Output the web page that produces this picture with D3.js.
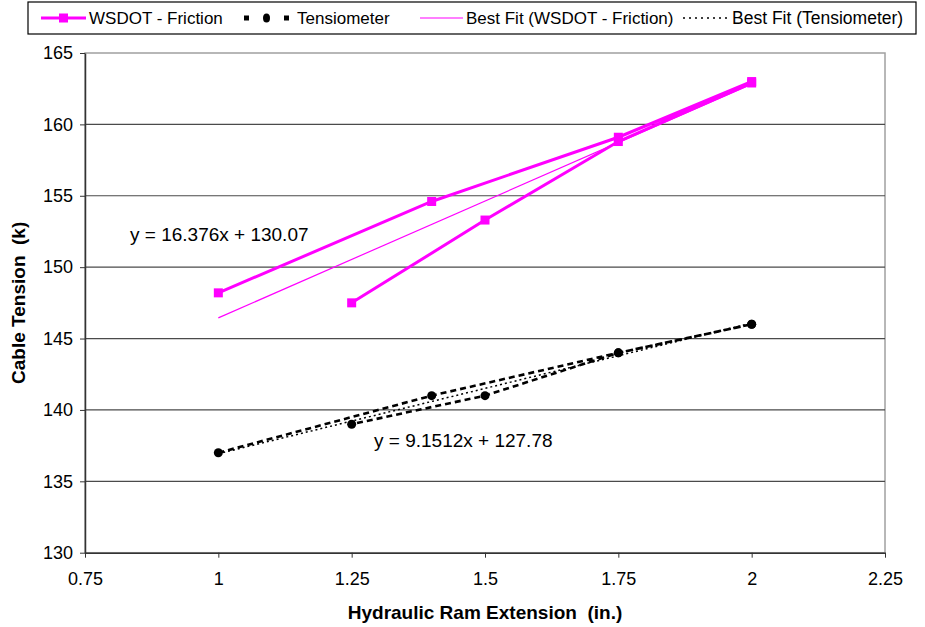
<!DOCTYPE html>
<html>
<head>
<meta charset="utf-8">
<script src="https://cdn.jsdelivr.net/npm/d3@7"></script>
<style>
  body { margin: 0; background: #fff; }
  svg { font-family: "Liberation Sans", Arial, sans-serif; }
</style>
</head>
<body>
<div id="chart"></div>
<script>
// data (loading run goes out to 2 and comes back)
const ramExt = [1, 1.4, 1.75, 2, 2, 1.75, 1.5, 1.25];
const wsdot = [148.2, 154.6, 159.1, 163.0, 162.9, 158.8, 153.3, 147.5];
const tensiometer = [137, 141, 144, 146, 146, 144, 141, 139];

// trendline coefficients as printed on the chart
const fitWsdot = { m: 16.376, b: 130.07, label: "y = 16.376x + 130.07" };
const fitTens = { m: 9.1512, b: 127.78, label: "y = 9.1512x + 127.78" };
const fitRange = [1, 2];

const xTicks = [0.75, 1, 1.25, 1.5, 1.75, 2, 2.25];
const yTicks = [130, 135, 140, 145, 150, 155, 160, 165];

const width = 925;
const height = 627;
const margin = { top: 53, right: 40, bottom: 74.3, left: 85 };

const svg = d3.select("#chart").append("svg")
    .attr("width", width)
    .attr("height", height);

const xScale = d3.scaleLinear()
    .domain([0.75, 2.25])
    .range([margin.left, width - margin.right]);

const yScale = d3.scaleLinear()
    .domain([130, 165])
    .range([height - margin.bottom, margin.top]);

// plot frame (light grey top/right)
svg.append("rect")
    .attr("x", margin.left)
    .attr("y", margin.top)
    .attr("width", xScale(2.25) - margin.left)
    .attr("height", yScale(130) - margin.top)
    .attr("fill", "#fff")
    .attr("stroke", "#a0a0a0")
    .attr("stroke-width", 1.5);

// gridlines
svg.append("g")
    .selectAll("line")
    .data(yTicks.filter(d => d > 130 && d < 165))
    .enter()
    .append("line")
    .attr("x1", margin.left)
    .attr("x2", xScale(2.25))
    .attr("y1", d => yScale(d))
    .attr("y2", d => yScale(d))
    .attr("stroke", "#4a4a4a")
    .attr("stroke-width", 1.2);

const xAxis = d3.axisBottom(xScale).tickValues(xTicks).tickSize(5).tickSizeOuter(0)
    .tickFormat(d3.format(""));
const yAxis = d3.axisLeft(yScale).tickValues(yTicks).tickSize(5).tickSizeOuter(0);

svg.append("g")
    .attr("class", "axis x-axis")
    .attr("transform", `translate(0,${yScale(130)})`)
    .call(xAxis)
    .call(g => g.select(".domain").attr("stroke", "#333").attr("stroke-width", 1.5))
    .call(g => g.selectAll(".tick line").attr("stroke", "#333"))
    .call(g => g.selectAll(".tick text")
        .attr("y", 20)
        .attr("font-size", 18)
        .attr("fill", "#000")
        .attr("font-family", "Liberation Sans, Arial, sans-serif"));

svg.append("g")
    .attr("class", "axis y-axis")
    .attr("transform", `translate(${margin.left},0)`)
    .call(yAxis)
    .call(g => g.select(".domain").attr("stroke", "#333").attr("stroke-width", 1.5))
    .call(g => g.selectAll(".tick line").attr("stroke", "#333"))
    .call(g => g.selectAll(".tick text")
        .attr("x", -12)
        .attr("font-size", 18)
        .attr("fill", "#000")
        .attr("font-family", "Liberation Sans, Arial, sans-serif"));

// axis titles
svg.append("text")
    .attr("x", (margin.left + xScale(2.25)) / 2)
    .attr("y", 619)
    .attr("text-anchor", "middle")
    .attr("font-size", 19)
    .attr("font-weight", "bold")
    .style("white-space", "pre")
    .text("Hydraulic Ram Extension  (in.)");

svg.append("text")
    .attr("transform", `translate(25,${(margin.top + yScale(130)) / 2}) rotate(-90)`)
    .attr("text-anchor", "middle")
    .attr("font-size", 19)
    .attr("font-weight", "bold")
    .style("white-space", "pre")
    .text("Cable Tension  (k)");

const line = d3.line()
    .x(d => xScale(d[0]))
    .y(d => yScale(d[1]));

// best fit lines
const fitW = fitRange.map(x => [x, fitWsdot.m * x + fitWsdot.b]);
const fitT = fitRange.map(x => [x, fitTens.m * x + fitTens.b]);

svg.append("path")
    .datum(fitW)
    .attr("d", line)
    .attr("fill", "none")
    .attr("stroke", "#ff00ff")
    .attr("stroke-width", 1.2);

// tensiometer series
const tensPts = ramExt.map((x, i) => [x, tensiometer[i]]);
svg.append("path")
    .datum(tensPts)
    .attr("d", line)
    .attr("fill", "none")
    .attr("stroke", "#000")
    .attr("stroke-width", 2.6)
    .attr("stroke-dasharray", "6,4");

svg.append("path")
    .datum(fitT)
    .attr("d", line)
    .attr("fill", "none")
    .attr("stroke", "#000")
    .attr("stroke-width", 1.5)
    .attr("stroke-dasharray", "2,3");

svg.append("g")
    .selectAll("circle")
    .data(tensPts)
    .enter()
    .append("circle")
    .attr("cx", d => xScale(d[0]))
    .attr("cy", d => yScale(d[1]))
    .attr("r", 4.5)
    .attr("fill", "#000");

// WSDOT series
const wsdotPts = ramExt.map((x, i) => [x, wsdot[i]]);
svg.append("path")
    .datum(wsdotPts)
    .attr("d", line)
    .attr("fill", "none")
    .attr("stroke", "#ff00ff")
    .attr("stroke-width", 3);

svg.append("g")
    .selectAll("rect")
    .data(wsdotPts)
    .enter()
    .append("rect")
    .attr("x", d => xScale(d[0]) - 4.5)
    .attr("y", d => yScale(d[1]) - 4.5)
    .attr("width", 9)
    .attr("height", 9)
    .attr("fill", "#ff00ff");

// equation labels
svg.append("text")
    .attr("x", 130)
    .attr("y", 241)
    .attr("font-size", 19)
    .text(fitWsdot.label);

svg.append("text")
    .attr("x", 374)
    .attr("y", 447)
    .attr("font-size", 19)
    .text(fitTens.label);

// legend
const legend = svg.append("g");
legend.append("rect")
    .attr("x", 28)
    .attr("y", 2)
    .attr("width", 888)
    .attr("height", 32)
    .attr("fill", "#fff")
    .attr("stroke", "#000")
    .attr("stroke-width", 1.2);

const ly = 18;
// WSDOT
legend.append("line").attr("x1", 41).attr("x2", 86).attr("y1", ly).attr("y2", ly)
    .attr("stroke", "#ff00ff").attr("stroke-width", 3);
legend.append("rect").attr("x", 59).attr("y", ly - 4.5).attr("width", 9).attr("height", 9)
    .attr("fill", "#ff00ff");
legend.append("text").attr("x", 89).attr("y", ly + 6).attr("font-size", 17).text("WSDOT - Friction");
// Tensiometer
legend.append("rect").attr("x", 244).attr("y", ly - 2.5).attr("width", 5).attr("height", 5).attr("fill", "#000");
legend.append("rect").attr("x", 284).attr("y", ly - 2.5).attr("width", 5).attr("height", 5).attr("fill", "#000");
legend.append("ellipse").attr("cx", 266.5).attr("cy", ly).attr("rx", 3.5).attr("ry", 4.5).attr("fill", "#000");
legend.append("text").attr("x", 297).attr("y", ly + 6).attr("font-size", 17).text("Tensiometer");
// best fit WSDOT
legend.append("line").attr("x1", 420).attr("x2", 463).attr("y1", ly).attr("y2", ly)
    .attr("stroke", "#ff00ff").attr("stroke-width", 1.2);
legend.append("text").attr("x", 466).attr("y", ly + 6).attr("font-size", 17).text("Best Fit (WSDOT - Friction)");
// best fit tensiometer
legend.append("line").attr("x1", 683).attr("x2", 727).attr("y1", ly).attr("y2", ly)
    .attr("stroke", "#000").attr("stroke-width", 1.5).attr("stroke-dasharray", "2,4");
legend.append("text").attr("x", 732).attr("y", ly + 6).attr("font-size", 17.5).text("Best Fit (Tensiometer)");
</script>
</body>
</html>
